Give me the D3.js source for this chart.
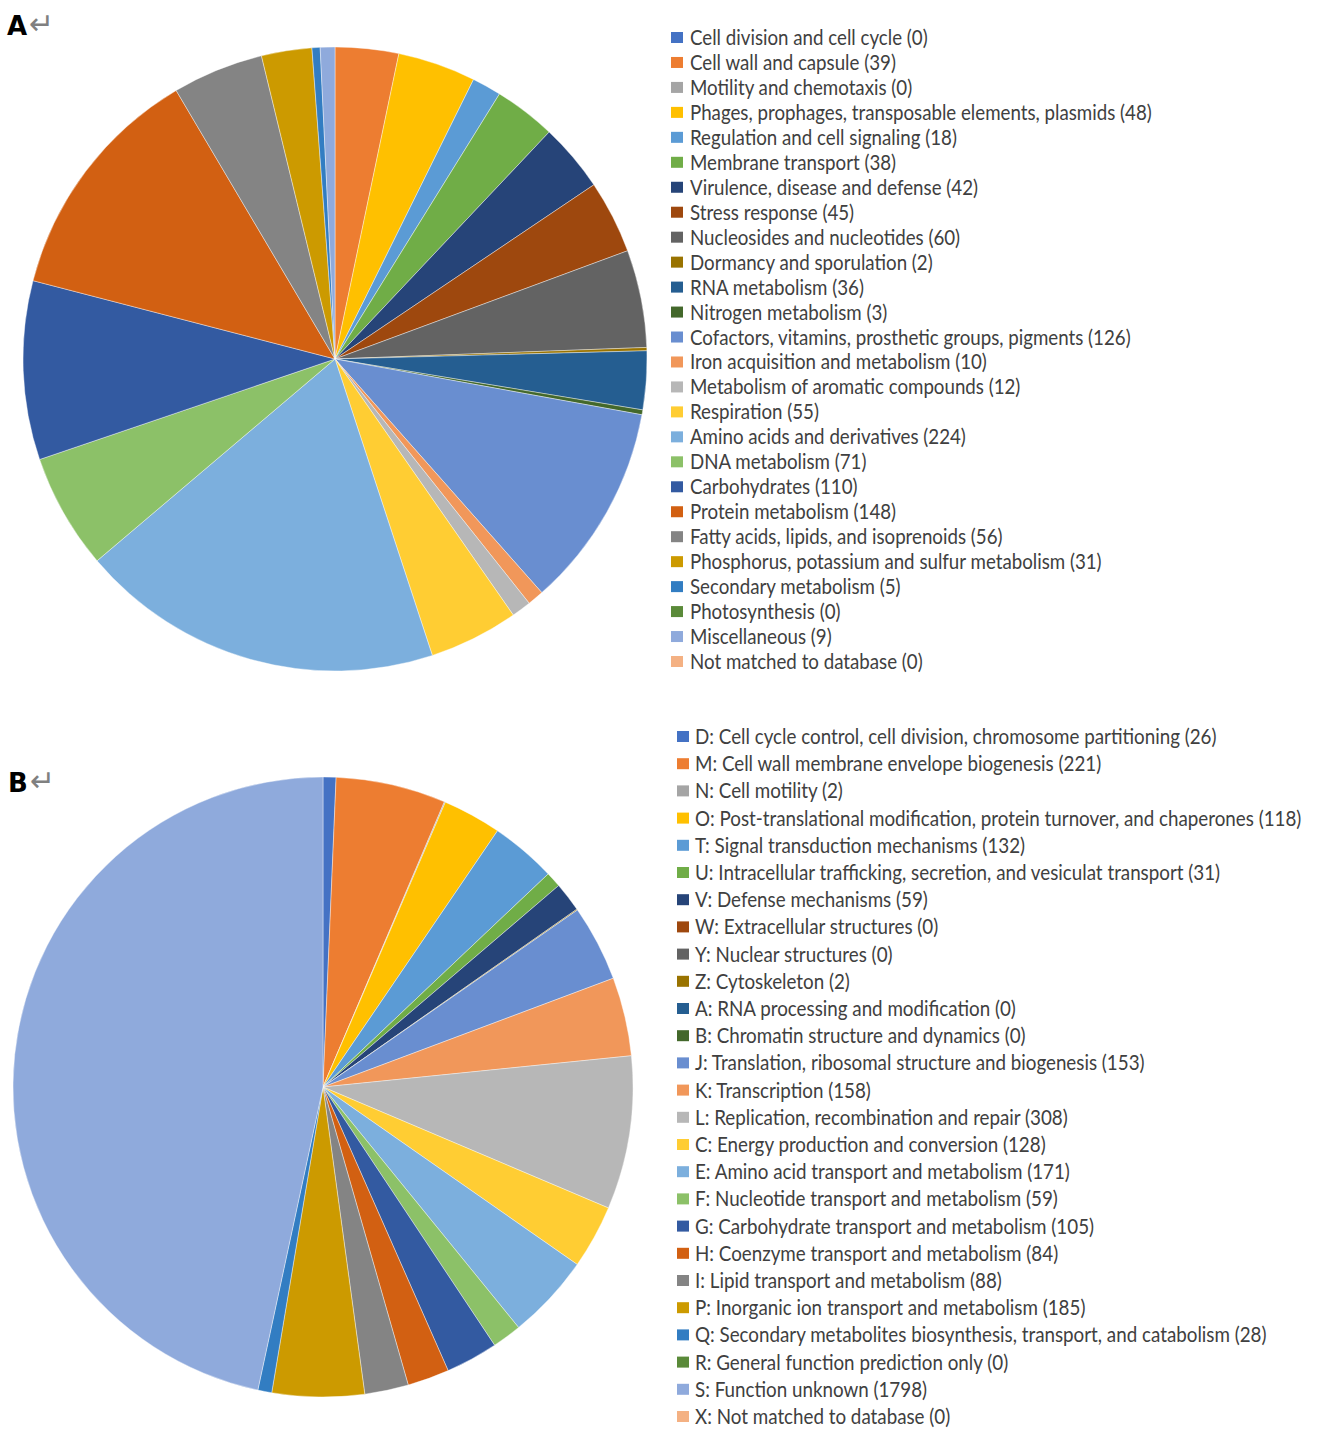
<!DOCTYPE html>
<html><head><meta charset="utf-8">
<script src="https://cdn.jsdelivr.net/npm/d3@7"></script>
<style>html,body{margin:0;padding:0;background:#fff;}</style>
</head><body>
<svg id="chart" width="1331" height="1431"></svg>
<script>
// Data
const seedCategories = ["Cell division and cell cycle","Cell wall and capsule","Motility and chemotaxis","Phages, prophages, transposable elements, plasmids","Regulation and cell signaling","Membrane transport","Virulence, disease and defense","Stress response","Nucleosides and nucleotides","Dormancy and sporulation","RNA metabolism","Nitrogen metabolism","Cofactors, vitamins, prosthetic groups, pigments","Iron acquisition and metabolism","Metabolism of aromatic compounds","Respiration","Amino acids and derivatives","DNA metabolism","Carbohydrates","Protein metabolism","Fatty acids, lipids, and isoprenoids","Phosphorus, potassium and sulfur metabolism","Secondary metabolism","Photosynthesis","Miscellaneous","Not matched to database"];
const seedValues = [0,39,0,48,18,38,42,45,60,2,36,3,126,10,12,55,224,71,110,148,56,31,5,0,9,0];

const cogCategories = ["D: Cell cycle control, cell division, chromosome partitioning","M: Cell wall membrane envelope biogenesis","N: Cell motility","O: Post-translational modification, protein turnover, and chaperones","T: Signal transduction mechanisms","U: Intracellular trafficking, secretion, and vesiculat transport","V: Defense mechanisms","W: Extracellular structures","Y: Nuclear structures","Z: Cytoskeleton","A: RNA processing and modification","B: Chromatin structure and dynamics","J: Translation, ribosomal structure and biogenesis","K: Transcription","L: Replication, recombination and repair","C: Energy production and conversion","E: Amino acid transport and metabolism","F: Nucleotide transport and metabolism","G: Carbohydrate transport and metabolism","H: Coenzyme transport and metabolism","I: Lipid transport and metabolism","P: Inorganic ion transport and metabolism","Q: Secondary metabolites biosynthesis, transport, and catabolism","R: General function prediction only","S: Function unknown","X: Not matched to database"];
const cogValues = [26,221,2,118,132,31,59,0,0,2,0,0,153,158,308,128,171,59,105,84,88,185,28,0,1798,0];

const palette = ["#4472C4","#ED7D31","#A5A5A5","#FFC000","#5B9BD5","#70AD47","#264478","#9E480E","#636363","#997300","#255E91","#43682B","#698ED0","#F1975A","#B7B7B7","#FFCD33","#7CAFDD","#8CC168","#335AA1","#D26012","#848484","#CC9A00","#327DC2","#5A8A39","#8FAADC","#F4B183"];

const svg = d3.select("#chart");

function drawPanel(opt) {
  const data = opt.cats.map((c,i)=>({name:c, value:opt.vals[i], idx:i}));
  const color = d3.scaleOrdinal().domain(d3.range(data.length)).range(palette);
  const pie = d3.pie().sort(null).value(d=>d.value);
  const arc = d3.arc().innerRadius(0).outerRadius(opt.r);
  const g = svg.append("g").attr("transform",`translate(${opt.cx},${opt.cy})`);
  g.selectAll("path").data(pie(data).filter(d=>d.data.value>0)).join("path")
    .attr("d",arc).attr("fill",d=>color(d.data.idx))
    .attr("stroke","#fff").attr("stroke-width",0.4);

  // panel label
  svg.append("text").attr("x",opt.lx).attr("y",opt.ly)
    .attr("font-family","'DejaVu Sans', sans-serif").attr("font-weight","bold")
    .attr("font-size",26).attr("fill","#000").text(opt.label);
  svg.append("text").attr("x",opt.lx+22).attr("y",opt.ly-1)
    .attr("font-family","'DejaVu Sans', sans-serif")
    .attr("font-size",30).attr("fill","#808080").text("\u21B5");

  // legend
  const y = d3.scalePoint().domain(d3.range(data.length)).range([opt.ly0, opt.ly1]);
  const lg = svg.append("g");
  const rows = lg.selectAll("g").data(data).join("g")
    .attr("transform",d=>`translate(0,${y(d.idx)})`);
  rows.append("rect").attr("x",opt.sx).attr("y",-6).attr("width",12).attr("height",11)
    .attr("fill",d=>color(d.idx));
  const tg = rows.append("g").attr("class","tg");
  const texts = tg.append("text").attr("x",0).attr("y",7)
    .attr("font-family","Lato, 'Open Sans', sans-serif").attr("font-size",21)
    .attr("fill","#404040")
    .text(d=>`${d.name} (${d.value})`);
  // condense horizontally to match reference widths
  const nat = texts.nodes().map(n=>n.getComputedTextLength());
  const factor = opt.refW / nat[opt.refIdx];
  tg.attr("transform",`translate(${opt.tx},0) scale(${factor},1)`);
}

drawPanel({cats:seedCategories, vals:seedValues, cx:335, cy:359, r:312,
  label:"A", lx:7, ly:35, ly0:38, ly1:662, sx:671, tx:690, refIdx:12, refW:441});
drawPanel({cats:cogCategories, vals:cogValues, cx:323, cy:1087, r:310,
  label:"B", lx:8, ly:792, ly0:737, ly1:1417, sx:677, tx:695, refIdx:3, refW:607});
</script>
</body></html>
